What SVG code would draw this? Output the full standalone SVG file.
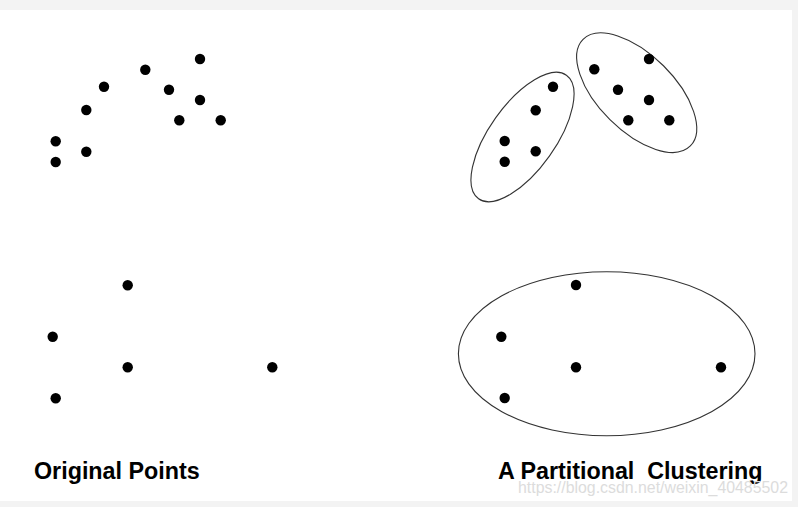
<svg xmlns="http://www.w3.org/2000/svg" width="798" height="507" viewBox="0 0 798 507">
  <style>
    .dot { fill: #000; }
    .cluster { fill: none; stroke: #333; stroke-width: 1.1; }
    .label { font-family: "Liberation Sans", Arial, sans-serif; font-weight: bold; font-size: 23.3px; fill: #000; }
    .wm { font-family: "Liberation Sans", Arial, sans-serif; font-size: 16px; fill: #dcdcdc; }
  </style>
  <defs>
    <circle id="pt" r="5.2"/>
  </defs>
  <rect x="0" y="0" width="798" height="507" fill="#f3f3f3"/>
  <rect x="0" y="10" width="792" height="491" fill="#ffffff"/>

  <g id="original-points">
    <use href="#pt" class="dot" x="200" y="59"/>
    <use href="#pt" class="dot" x="145.3" y="69.7"/>
    <use href="#pt" class="dot" x="104" y="86.7"/>
    <use href="#pt" class="dot" x="169" y="89.7"/>
    <use href="#pt" class="dot" x="200" y="100"/>
    <use href="#pt" class="dot" x="86.3" y="110"/>
    <use href="#pt" class="dot" x="179.3" y="120.3"/>
    <use href="#pt" class="dot" x="220.7" y="120.3"/>
    <use href="#pt" class="dot" x="55.7" y="141.3"/>
    <use href="#pt" class="dot" x="86.3" y="151.7"/>
    <use href="#pt" class="dot" x="55.7" y="162"/>

    <use href="#pt" class="dot" x="127.7" y="285.3"/>
    <use href="#pt" class="dot" x="52.7" y="336.7"/>
    <use href="#pt" class="dot" x="127.7" y="367.3"/>
    <use href="#pt" class="dot" x="272.3" y="367.3"/>
    <use href="#pt" class="dot" x="55.7" y="398.3"/>
  </g>

  <g id="cluster-1">
    <ellipse class="cluster" cx="522.5" cy="137" rx="75.8" ry="33" transform="rotate(-54.6 522.5 137)"/>
    <use href="#pt" class="dot" x="553" y="86.7"/>
    <use href="#pt" class="dot" x="535.7" y="110.3"/>
    <use href="#pt" class="dot" x="504.7" y="141"/>
    <use href="#pt" class="dot" x="535.7" y="151.3"/>
    <use href="#pt" class="dot" x="504.7" y="161.7"/>
  </g>

  <g id="cluster-2">
    <ellipse class="cluster" cx="636.7" cy="92.7" rx="75.6" ry="38" transform="rotate(44.8 636.7 92.7)"/>
    <use href="#pt" class="dot" x="594.3" y="69.3"/>
    <use href="#pt" class="dot" x="649" y="59"/>
    <use href="#pt" class="dot" x="618" y="89.7"/>
    <use href="#pt" class="dot" x="649" y="100"/>
    <use href="#pt" class="dot" x="628.3" y="120.3"/>
    <use href="#pt" class="dot" x="669.3" y="120.3"/>
  </g>

  <g id="cluster-3">
    <ellipse class="cluster" cx="606.7" cy="353.7" rx="148.3" ry="82"/>
    <use href="#pt" class="dot" x="576" y="285"/>
    <use href="#pt" class="dot" x="501.3" y="336.7"/>
    <use href="#pt" class="dot" x="576" y="367.3"/>
    <use href="#pt" class="dot" x="721" y="367.3"/>
    <use href="#pt" class="dot" x="504.7" y="398"/>
  </g>

  <g id="labels">
    <text class="label" x="34" y="479">Original Points</text>
    <text class="label" x="498" y="479" xml:space="preserve">A Partitional  Clustering</text>
    <text class="wm" x="518" y="493" textLength="270" lengthAdjust="spacingAndGlyphs">https://blog.csdn.net/weixin_40485502</text>
  </g>
</svg>
